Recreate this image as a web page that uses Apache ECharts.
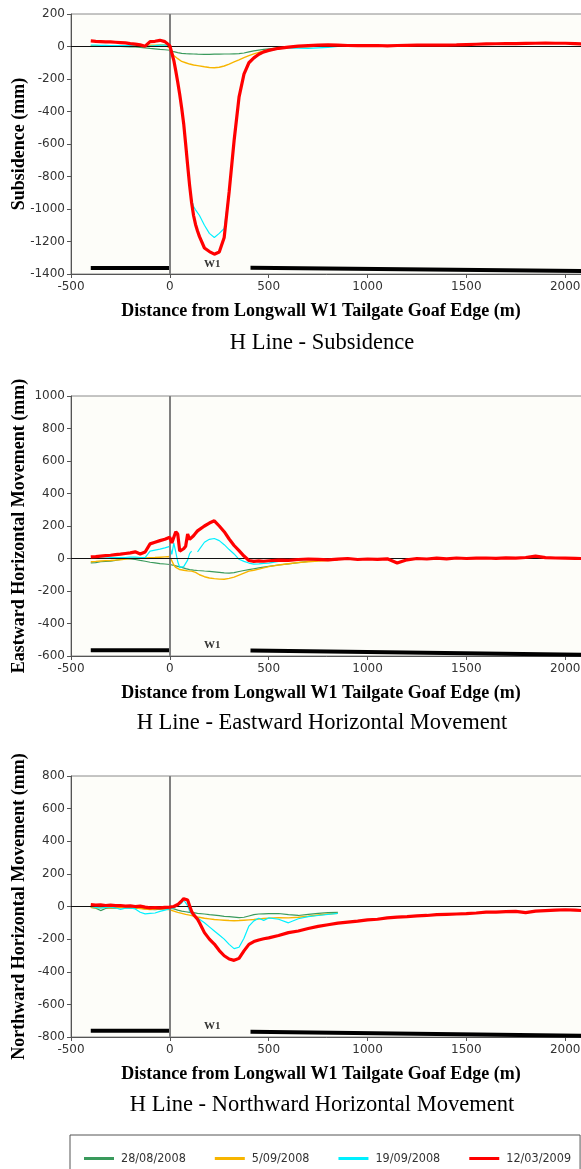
<!DOCTYPE html>
<html>
<head>
<meta charset="utf-8">
<script src="https://cdn.jsdelivr.net/npm/echarts@6/dist/echarts.min.js"></script>
<style>
html,body{margin:0;padding:0;background:#fff;}
#chart{width:581px;height:1169px;}
</style>
</head>
<body>
<div id="chart"></div>
<script>
// Distance from Longwall W1 Tailgate Goaf Edge (m)
const distance = [-400,-375,-350,-325,-300,-275,-250,-225,-200,-175,-150,-125,-100,-75,-50,-25,0,
  10,20,30,40,50,60,70,80,90,100,110,120,130,140,150,
  175,200,225,250,275,300,325,350,375,400,425,450,475,500,
  550,600,650,700,750,800,850,900,950,1000,1050,1100,1150,1200,1250,1300,1350,1400,1450,1500,
  1550,1600,1650,1700,1750,1800,1850,1900,1950,2000,2050,2085];

const seriesNames = ['28/08/2008','5/09/2008','19/09/2008','12/03/2009'];

// Subsidence (mm)
const subs_28_08_2008 = [2,2,1,1,0,0,0,-1,-2,-3,-5,-8,-12,-15,-18,-20,-23,
  -28,-32,-35,-38,-40,-42,-43,-44,-45,-45,-46,-46,-47,-47,-48,
  -48,-48,-47,-47,-46,-46,-45,-44,-40,-33,-27,-22,-18,-15,
  -9,-5,-3,-1,0,1,2];
const subs_05_09_2008 = [5,5,5,5,5,5,5,5,5,5,5,5,8,8,10,10,-10,
  -40,-55,-65,-75,-85,-92,-97,-100,-104,-108,-111,-114,-116,-118,-120,
  -125,-129,-131,-128,-120,-108,-95,-82,-68,-56,-45,-36,-28,-22,
  -12,-6,-2,0,2,3,3];
const subs_19_09_2008 = [8,8,7,7,6,6,5,5,5,4,3,1,3,5,8,8,0,
  -40,-85,-150,-220,-295,-380,-475,-600,-730,-850,-940,-985,-1005,-1015,-1040,
  -1100,-1150,-1175,-1150,-1120,-890,-580,-312,-172,-105,-75,-52,-36,-28,
  -14,-8,-10,-12,-8,-5,0];
const subs_12_03_2009 = [35,32,30,28,28,26,24,22,18,15,10,2,30,32,38,30,5,
  -40,-85,-150,-220,-295,-380,-475,-600,-730,-855,-960,-1040,-1095,-1135,-1170,
  -1240,-1262,-1278,-1265,-1175,-895,-580,-312,-170,-100,-70,-48,-33,-24,
  -11,-4,2,5,8,10,8,6,5,5,6,4,6,7,8,8,9,9,10,12,14,16,17,18,18,19,20,21,20,20,18,16];

// Eastward horizontal movement (mm)
const east_28_08_2008 = [-27,-25,-20,-18,-16,-12,-6,0,-2,-6,-12,-17,-23,-27,-31,-34,-37,
  -40,-42,-45,-48,-52,-55,-58,-62,-65,-68,-70,-72,-73,-74,-75,
  -77,-79,-82,-85,-88,-90,-87,-80,-74,-68,-63,-58,-53,-48,
  -40,-33,-25,-18,-13,-9,-6];
const east_05_09_2008 = [-20,-18,-15,-13,-12,-10,-8,-3,0,2,3,4,5,6,8,10,12,
  8,-40,-55,-65,-68,-70,-72,-74,-76,-77,-78,-80,-85,-92,-100,
  -112,-120,-124,-127,-128,-122,-115,-102,-90,-78,-72,-65,-58,-50,
  -40,-32,-25,-20,-15,-12,-10];
const east_19_09_2008 = [0,2,3,3,5,5,6,6,8,8,6,5,45,52,58,65,75,
  25,95,40,-20,-55,-58,-50,-38,-10,30,45,null,null,40,58,
  100,118,123,110,85,55,28,-5,-18,-28,-35,-33,-30,-28,
  -18,-12,-8,-6,-5,-4,-3];
const east_12_03_2009 = [10,12,15,18,20,24,27,31,35,41,28,40,90,100,110,118,131,
  95,85,165,150,45,52,60,75,150,118,125,140,155,170,180,
  200,218,232,200,165,120,80,48,15,-12,-18,-15,-17,-14,
  -10,-12,-6,-3,-5,-8,-4,0,-6,-3,-5,-2,-28,-8,0,-3,2,-2,3,0,2,3,1,4,2,6,15,5,3,2,1,0];

// Northward horizontal movement (mm)
const north_28_08_2008 = [-5,-10,-25,-12,-8,-10,-6,-8,-10,-12,-10,-15,-18,-20,-16,-14,-10,
  -12,-15,-18,-22,-25,-28,-30,-32,-34,-36,-37,-38,-40,-42,-43,
  -46,-50,-53,-56,-60,-62,-65,-68,-66,-58,-50,-46,-45,-44,
  -43,-50,-55,-48,-42,-38,-36];
const north_05_09_2008 = [-5,-8,-6,-5,-8,-6,-5,-8,-5,-8,-12,-15,-18,-15,-12,-15,-20,
  -25,-28,-32,-36,-40,-42,-45,-48,-50,-53,-56,-59,-62,-64,-66,
  -72,-76,-80,-82,-84,-86,-87,-86,-84,-82,-80,-77,-74,-71,
  -68,-70,-66,-60,-52,-46,-42];
const north_19_09_2008 = [0,-5,-10,-5,-3,-8,-18,-10,-8,-15,-35,-45,-42,-40,-30,-22,-15,
  -10,-8,-2,5,12,22,40,45,5,-28,-45,-55,-62,-68,-78,
  -100,-125,-150,-175,-200,-232,-258,-250,-195,-120,-88,-72,-85,-70,
  -78,-100,-75,-62,-55,-48,-42];
const north_12_03_2009 = [12,8,10,6,8,5,6,2,4,0,2,-4,-8,-6,-8,-5,-4,
  -2,0,5,12,20,35,48,53,40,5,-30,-50,-60,-78,-100,
  -160,-200,-230,-270,-302,-322,-330,-318,-272,-232,-215,-205,-198,-192,
  -178,-160,-150,-135,-122,-112,-102,-96,-90,-82,-78,-70,-65,-62,-58,-55,-50,-48,-46,-44,-40,-35,-34,-32,-30,-38,-28,-25,-22,-20,-22,-25];

// Panel position bars (pillar / goaf indicators) and W1 label
const barLeftX = [-400, 0];
const barRightX = [408, 2090];
const subsBarLeftY = [-1363, -1363];
const subsBarRightY = [-1362, -1382];
const eastBarLeftY = [-564, -564];
const eastBarRightY = [-566, -592];
const northBarLeftY = [-762, -762];
const northBarRightY = [-768, -793];
const w1X = 215;
const w1Y = [-1342, -536, -735];

// Axis settings
const yMins = [-1400, -600, -800];
const yMaxs = [200, 1000, 800];
const yNames = ['Subsidence (mm)', 'Eastward Horizontal Movement (mm)', 'Northward Horizontal Movement (mm)'];
const chartTitles = ['H Line - Subsidence', 'H Line - Eastward Horizontal Movement', 'H Line - Northward Horizontal Movement'];
const xName = 'Distance from Longwall W1 Tailgate Goaf Edge (m)';

const colors = ['#3a9a5c', '#f7b500', '#00f0ff', '#ff0000'];
const widths = [1.2, 1.4, 1.2, 3.2];

const panels = [
  [subs_28_08_2008, subs_05_09_2008, subs_19_09_2008, subs_12_03_2009],
  [east_28_08_2008, east_05_09_2008, east_19_09_2008, east_12_03_2009],
  [north_28_08_2008, north_05_09_2008, north_19_09_2008, north_12_03_2009]
];
const barsY = [[subsBarLeftY, subsBarRightY],[eastBarLeftY, eastBarRightY],[northBarLeftY, northBarRightY]];

const serif = '"Liberation Serif","Times New Roman",serif';
const sans = '"DejaVu Sans",Verdana,sans-serif';

const gridTops = [14, 396, 776];
const gridHeights = [260, 260, 261];
const titleY = [343, 723, 1105];

const grids = [], xAxes = [], yAxes = [], series = [], graphics = [];
for (let p = 0; p < 3; p++) {
  grids.push({left: 71, top: gridTops[p], width: 512, height: gridHeights[p], show: true,
    outerBoundsMode: 'none', containLabel: false,
    backgroundColor: '#fdfdf9', borderColor: '#8a8a8a', borderWidth: 1});
  xAxes.push({type: 'value', gridIndex: p, min: -500, max: 2090, interval: 500,
    name: xName, nameLocation: 'middle', nameGap: 28, nameMoveOverlap: false,
    nameTextStyle: {fontFamily: serif, fontWeight: 'bold', fontSize: 18, color: '#000', padding: [0, 12, 0, 0]},
    axisLine: {show: true, onZero: false, lineStyle: {color: '#555', width: 1}},
    axisTick: {show: true, length: 4, lineStyle: {color: '#555'}},
    axisLabel: {fontFamily: sans, fontSize: 12, color: '#333', margin: 7, showMaxLabel: false,
      formatter: v => String(v)},
    splitLine: {show: false}});
  yAxes.push({type: 'value', gridIndex: p, min: yMins[p], max: yMaxs[p], interval: 200,
    name: yNames[p], nameLocation: 'middle', nameGap: 43, nameMoveOverlap: false,
    nameTextStyle: {fontFamily: serif, fontWeight: 'bold', fontSize: 18, color: '#000'},
    axisLine: {show: true, onZero: false, lineStyle: {color: '#555', width: 1}},
    axisTick: {show: true, length: 4, lineStyle: {color: '#555'}},
    axisLabel: {fontFamily: sans, fontSize: 12, color: '#333', margin: 6,
      formatter: v => String(v)},
    splitLine: {show: false}});

  // reference lines + left bar
  series.push({type: 'line', xAxisIndex: p, yAxisIndex: p, z: 1, silent: true,
    data: barLeftX.map((x, i) => [x, barsY[p][0][i]]), symbol: 'none',
    lineStyle: {color: '#000', width: 4}, animation: false,
    markLine: {silent: true, symbol: 'none', label: {show: false}, animation: false,
      data: [{xAxis: 0, lineStyle: {color: '#808080', width: 2, type: 'solid'}},
             {yAxis: 0, lineStyle: {color: '#111', width: 1.2, type: 'solid'}}]}});
  series.push({type: 'line', xAxisIndex: p, yAxisIndex: p, z: 1, silent: true,
    data: barRightX.map((x, i) => [x, barsY[p][1][i]]), symbol: 'none',
    lineStyle: {color: '#000', width: 4}, animation: false});
  series.push({type: 'scatter', xAxisIndex: p, yAxisIndex: p, z: 3, silent: true,
    data: [[w1X, w1Y[p]]], symbolSize: 1, itemStyle: {color: 'rgba(0,0,0,0)'},
    label: {show: true, formatter: 'W1', position: 'inside', fontFamily: serif,
      fontWeight: 'bold', fontSize: 11, color: '#000'}});

  for (let s = 0; s < 4; s++) {
    const vals = panels[p][s];
    series.push({type: 'line', name: seriesNames[s], xAxisIndex: p, yAxisIndex: p, z: 2 + s,
      data: vals.map((v, i) => [distance[i], v === null ? '-' : v]),
      symbol: 'none', showSymbol: false, connectNulls: false,
      lineStyle: {color: colors[s], width: widths[s]}, itemStyle: {color: colors[s]},
      animation: false});
  }

  graphics.push({type: 'text', x: 322, y: titleY[p],
    style: {text: chartTitles[p], font: '22.5px ' + serif, fill: '#000',
      textAlign: 'center', textVerticalAlign: 'middle'}});
}

const chart = echarts.init(document.getElementById('chart'), null, {renderer: 'canvas'});
chart.setOption({
  animation: false,
  backgroundColor: '#ffffff',
  grid: grids, xAxis: xAxes, yAxis: yAxes, series: series, graphic: graphics,
  legend: {data: seriesNames, left: 70, top: 1135, orient: 'horizontal', icon: 'rect',
    itemWidth: 30, itemHeight: 3, itemGap: 29, padding: [17, 9, 30, 14],
    borderColor: '#555', borderWidth: 1,
    textStyle: {fontFamily: '"Liberation Sans Narrow","DejaVu Sans Condensed",sans-serif', fontSize: 12.5, color: '#333', padding: [0, 0, 0, 2]}}
});
</script>
</body>
</html>
